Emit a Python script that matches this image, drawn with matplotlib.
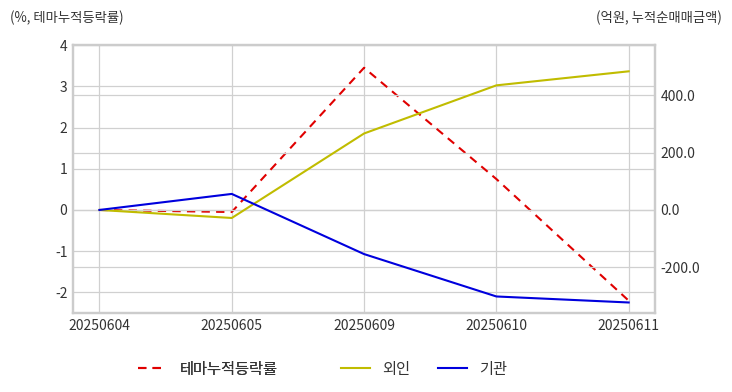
import matplotlib
matplotlib.use('Agg')
import matplotlib.pyplot as plt
from matplotlib.ticker import FormatStrFormatter

plt.rcParams['font.family'] = ['Noto Sans CJK KR', 'DejaVu Sans']
plt.rcParams['axes.unicode_minus'] = False

dates = ['20250604', '20250605', '20250609', '20250610', '20250611']
theme_rate = [0.0, -0.05, 3.45, 0.75, -2.2]
foreign = [0.0, -28, 267, 435, 484]
institution = [0.0, 56, -154, -302, -323]

grid_c = '#d0d0d0'
text_c = '#333333'

fig = plt.figure(figsize=(7.32, 3.92), dpi=100)
ax = fig.add_axes([0.0997, 0.2015, 0.7953, 0.6835])
ax2 = ax.twinx()

x = range(len(dates))
l1, = ax.plot(x, theme_rate, color='#e00000', ls='--', lw=1.5, dashes=(4, 3), label='테마누적등락률')
l2, = ax2.plot(x, foreign, color='#c0bc00', lw=1.5, label='외인')
l3, = ax2.plot(x, institution, color='#0000dd', lw=1.5, label='기관')

ax.set_xlim(-0.2, 4.2)
ax.set_ylim(-2.5, 4)
ax.set_yticks(range(-2, 5))
ax2.set_ylim(-2.5 * 143.9, 4 * 143.9)
ax2.set_yticks([-200, 0, 200, 400])
ax2.yaxis.set_major_formatter(FormatStrFormatter('%.1f'))
ax.set_xticks(list(x))
ax.set_xticklabels(dates)

ax.grid(True, color=grid_c, lw=0.9)
ax2.grid(True, axis='y', color=grid_c, lw=0.9)
ax.set_axisbelow(True)
ax2.set_axisbelow(True)
for a in (ax, ax2):
    for s in a.spines.values():
        s.set_color('#cccccc')
        s.set_linewidth(1.6)
    a.tick_params(length=0, labelsize=10, colors=text_c, pad=4)

fig.text(0.014, 0.955, '(%, 테마누적등락률)', fontsize=9.6, color=text_c, ha='left', va='center')
fig.text(0.986, 0.955, '(억원, 누적순매매금액)', fontsize=9.6, color=text_c, ha='right', va='center')

leg_kw = dict(frameon=False, fontsize=11, handlelength=1.9, handletextpad=0.8,
              columnspacing=1.8, labelcolor=text_c, borderpad=0, borderaxespad=0)
leg1 = fig.legend(handles=[l1], loc='center left', bbox_to_anchor=(138 / 732, 0.058), **leg_kw)
fig.add_artist(leg1)
fig.legend(handles=[l2, l3], loc='center left', bbox_to_anchor=(341 / 732, 0.058), ncol=2, **leg_kw)

fig.savefig('out.png', dpi=100)
